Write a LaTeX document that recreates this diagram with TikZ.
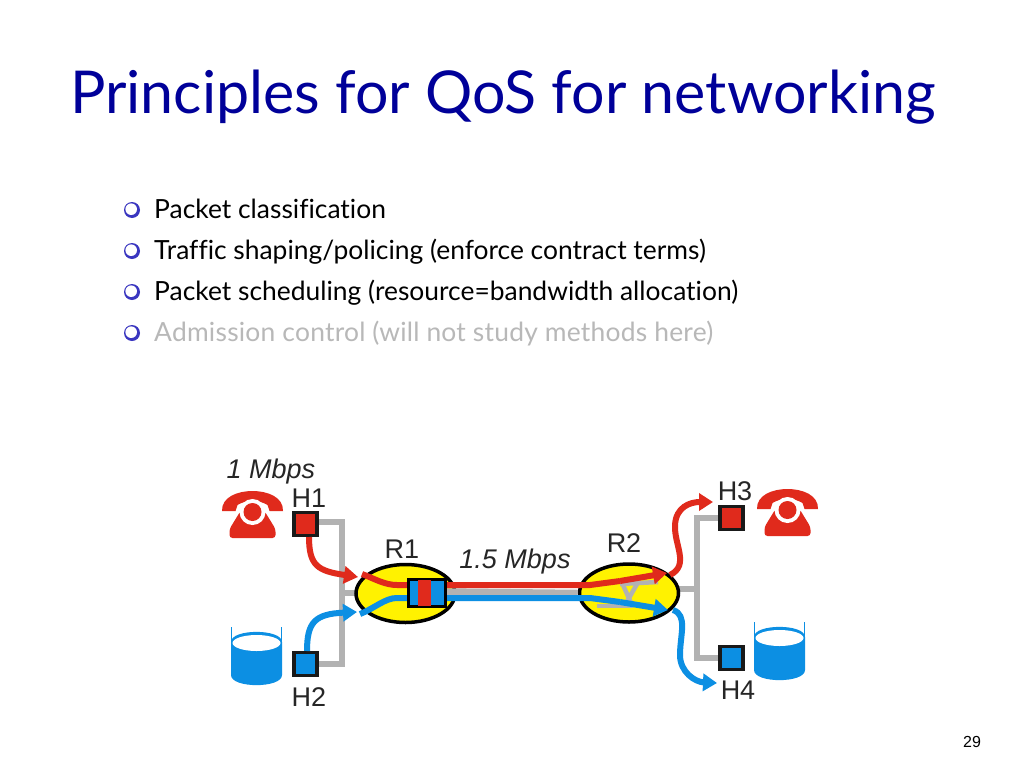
\documentclass[tikz,border=0pt]{standalone}
\usepackage{fontspec}
\setmainfont[Ligatures=NoCommon]{Lato}
\newfontfamily\labelfont{Liberation Sans}
\usetikzlibrary{arrows.meta,shapes.geometric}
\definecolor{titleblue}{HTML}{000099}
\definecolor{bulletblue}{HTML}{3A36C0}
\definecolor{flowred}{HTML}{E02A1C}
\definecolor{flowblue}{HTML}{0C8FE3}
\definecolor{busgray}{HTML}{B2B2B2}
\definecolor{fadedtext}{HTML}{B8B8B8}
\tikzset{
	hostbox/.style={draw=black!90,line width=3.2pt,minimum size=23pt,inner sep=0pt},
	router/.style={draw=black,fill=yellow,line width=3.5pt,ellipse,minimum width=99pt,minimum height=58pt,inner sep=0pt},
	netlabel/.style={inner sep=0pt,text=black!85,font=\labelfont\fontsize{27}{30}\selectfont},
	itemtext/.style={inner sep=0pt,anchor=base west,font=\fontsize{26.4}{30}\selectfont},
	bus/.style={draw=busgray,line width=6pt},
	redflow/.style={draw=flowred,line width=6pt},
	blueflow/.style={draw=flowblue,line width=6pt},
	flowtip/.style={-{Triangle[length=14pt,width=17pt]}},
	phone/.pic={
		\fill [flowred] (-30.5,-3) .. controls (-31,-17) and (-15,-23) .. (0,-23)
			.. controls (15,-23) and (31,-17) .. (30.5,-3) -- (17,-3) -- (15,-9)
			.. controls (8,-14) and (-8,-14) .. (-15,-9) -- (-17,-3) -- cycle;
		\fill [flowred,rounded corners=3pt] (-23,24) -- (-23,15) -- (-12,-3) -- (12,-3) -- (23,15) -- (23,24) -- cycle;
		\fill [white] (0,-2) circle [radius=13];
		\fill [flowred] (0,-2) circle [radius=9];
	},
	disk/.pic={
		\draw [flowblue,line width=0.8pt] (-25,-29) -- (-25,-14);
		\draw [flowblue,line width=0.8pt] (25,-29) -- (25,-14);
		\fill [flowblue] (-25.5,-14) -- (-25.5,19) .. controls (-25.5,32.5) and (25.5,32.5) .. (25.5,19)
			-- (25.5,-14) .. controls (25.5,-27.5) and (-25.5,-27.5) .. (-25.5,-14) -- cycle;
		\fill [white] (0,-13) circle [x radius=24, y radius=8];
	},
}
\begin{document}
\begin{tikzpicture}[x=1pt,y=-1pt]
	\useasboundingbox [fill=white] (0,0) rectangle (1024,768);

	\node (title) [anchor=base west,inner sep=0pt,text=titleblue,font=\fontsize{59.1}{62}\selectfont] at (70,113) {Principles for QoS for networking};

	% bullet list
	\foreach \name/\ypos/\col/\txt in {a/218/black/{Packet classification},
			b/259/black/{Traffic shaping/policing (enforce contract terms)},
			c/300/black/{Packet scheduling (resource=bandwidth allocation)},
			d/341/fadedtext/{\addfontfeature{LetterSpace=0.9}Admission control (will not study methods here)}} {
		\fill [bulletblue] (132,\ypos-8) circle [radius=8];
		\fill [white] (131.2,\ypos-8.8) circle [radius=5.8];
		\node (item\name) [itemtext,text=\col] at (154,\ypos) {\txt};
	}

	% routers and hosts
	\draw [bus] (318,522) -- (342,522) -- (342,664) -- (318,664);
	\draw [bus] (342,593) -- (360,593);
	\draw [bus] (675,589) -- (697,589);
	\draw [bus] (718,518) -- (697,518) -- (697,658) -- (718,658);

	\node (R1) [router] at (405.5,593.5) {};
	\node (R2) [router] at (629,593) {};
	\node (H1) [hostbox,fill=flowred] at (305.5,524) {};
	\node (H2) [hostbox,fill=flowblue] at (305.5,664) {};
	\node (H3) [hostbox,fill=flowred] at (731.5,518) {};
	\node (H4) [hostbox,fill=flowblue] at (731.5,658) {};

	\draw [busgray,line width=4.5pt] (620,584) -- (658,582);
	\draw [busgray,line width=4.5pt] (597,606) -- (633,606);
	\draw [busgray,line width=4.5pt] (623,585) -- (632,605);
	\draw [busgray,line width=4.5pt] (637,584) -- (625,605);

	\coordinate (R1red) at (358,577);
	\coordinate (R1blue) at (357,612);
	\coordinate (R2red) at (667,573);
	\coordinate (R2blue) at (668,610);
	\coordinate (H3in) at (713,502);
	\coordinate (H4in) at (717,683);

	% link between the routers
	\draw [bus,line width=6.5pt] (445,591.5) -- (R2.west);
	\draw [redflow] (R1red) ++(4,-3) .. controls (375,579) and (385,585) .. (397,585) -- (590,585) -- (620,581);
	\draw [blueflow] (R1blue) ++(3,2) .. controls (375,608) and (385,598) .. (397,598) -- (590,598) -- (620,602);
	\draw [redflow,flowtip] (620,581) -- (R2red);
	\draw [blueflow,flowtip] (620,602) -- (R2blue);

	\node (Q1) [draw=black,fill=flowblue,line width=3.5pt,minimum width=37pt,minimum height=27pt,inner sep=0pt] at (427,593) {};
	\node (Q1red) [fill=flowred,minimum width=12.5pt,minimum height=25.5pt,inner sep=0pt] at (424.5,593) {};

	% flows
	\draw [redflow,flowtip] (309,537) .. controls (309,566) and (318,571) .. (R1red);
	\draw [blueflow,flowtip] (307,651) .. controls (307,622) and (315,614) .. (R1blue);
	\draw [redflow,flowtip] (670,575) .. controls (690,565) and (674,545) .. (675,525) .. controls (676,507) and (690,502) .. (H3in);
	\draw [blueflow,flowtip] (673,610) .. controls (688,615) and (680,635) .. (680,655) .. controls (680,672) and (695,682) .. (H4in);

	\pic (phoneA) at (252.5,514) {phone};
	\pic (phoneB) at (787.5,512) {phone};
	\pic (diskA) at (256.5,656) {disk};
	\pic (diskB) at (779.5,651) {disk};

	\node (rateA) [netlabel] at (271,472) {\itshape 1 Mbps};
	\node (rateB) [netlabel] at (515,562) {\itshape 1.5 Mbps};
	\node (labelH1) [netlabel] at (309,498) {H1};
	\node (labelH2) [netlabel] at (309,697) {H2};
	\node (labelH3) [netlabel] at (735,491) {H3};
	\node (labelH4) [netlabel] at (738,690) {H4};
	\node (labelR1) [netlabel] at (402,549) {R1};
	\node (labelR2) [netlabel] at (624,543) {R2};

	\node (pagenum) [inner sep=0pt,font=\labelfont\fontsize{16}{18}\selectfont] at (972,742) {29};
\end{tikzpicture}
\end{document}
